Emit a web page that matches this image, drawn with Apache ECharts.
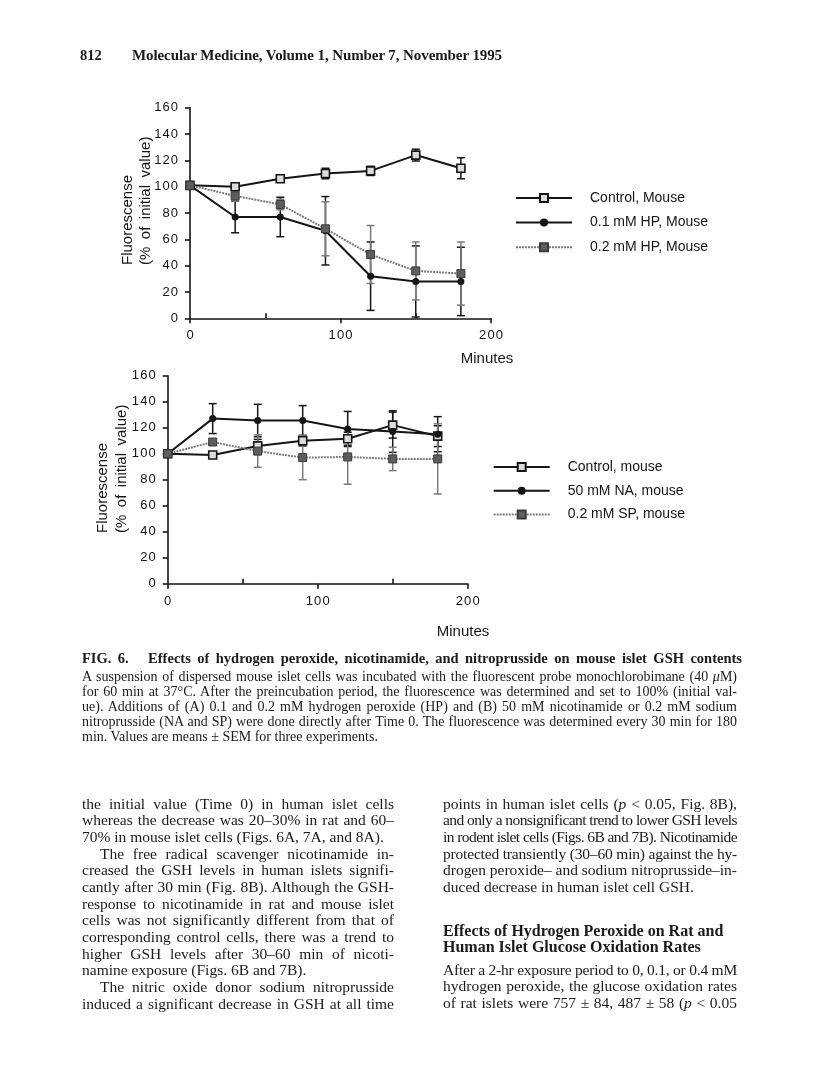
<!DOCTYPE html>
<html><head><meta charset="utf-8">
<script src="https://cdn.jsdelivr.net/npm/echarts@6/dist/echarts.min.js"></script>
<style>
html,body{margin:0;padding:0;background:#fff;}
#page{position:relative;width:816px;height:1088px;overflow:hidden;background:#fff;}
#chart{position:absolute;left:0;top:0;width:816px;height:1088px;}
.ln{position:absolute;white-space:nowrap;color:#1a1a1a;font-family:'Liberation Serif','Times New Roman',serif;}
.j{text-align:justify;text-align-last:justify;}
</style></head><body>
<div id="page"><div id="chart"></div><div id="txt"></div></div>
<script>
// ---------- data ----------
const minutes = [0, 30, 60, 90, 120, 150, 180];
const xTickLabels = ['0', '100', '200'];
const yTickLabels = ['0', '20', '40', '60', '80', '100', '120', '140', '160'];

// Panel A (hydrogen peroxide)
const legendA = ['Control, Mouse', '0.1 mM HP, Mouse', '0.2 mM HP, Mouse'];
const ctrlA    = [101, 100, 106, 110, 112, 124, 114];
const ctrlASem = [0, 2, 2, 4, 3.5, 4.5, 8];
const hp01     = [101, 77, 77, 66.5, 32, 28, 28];
const hp01Sem  = [0, 12, 15, 26, 26, 27, 26];
const hp02     = [101, 93, 86.5, 68, 48.5, 36, 34];
const hp02Sem  = [0, 4, 4, 20.5, 22, 22, 24];

// Panel B (nicotinamide / nitroprusside)
const legendB = ['Control, mouse', '50 mM NA, mouse', '0.2 mM SP, mouse'];
const ctrlB    = [100, 99, 106, 110, 111.5, 122, 113.5];
const ctrlBSem = [0, 2, 5, 4, 5, 10, 8];
const naB      = [100, 127, 125.5, 125.5, 119, 117, 115];
const naBSem   = [0, 11.5, 12.5, 11.5, 13.5, 16, 13.5];
const spB      = [100, 109, 102, 97, 97.5, 96, 96];
const spBSem   = [0, 2, 12.5, 17, 21, 9, 27];

// ---------- page text ----------
const headerNum = '812';
const headerTitle = 'Molecular Medicine, Volume 1, Number 7, November 1995';
const captionTitle = 'FIG. 6.&nbsp;&nbsp; Effects of hydrogen peroxide, nicotinamide, and nitroprusside on mouse islet GSH contents';
const captionLines = [
  'A suspension of dispersed mouse islet cells was incubated with the fluorescent probe monochlorobimane (40 <i>μ</i>M)',
  'for 60 min at 37°C. After the preincubation period, the fluorescence was determined and set to 100% (initial val-',
  'ue). Additions of (A) 0.1 and 0.2 mM hydrogen peroxide (HP) and (B) 50 mM nicotinamide or 0.2 mM sodium',
  'nitroprusside (NA and SP) were done directly after Time 0. The fluorescence was determined every 30 min for 180',
  'min. Values are means ± SEM for three experiments.'
];
const leftCol = [
  ['the initial value (Time 0) in human islet cells', 'j'],
  ['whereas the decrease was 20–30% in rat and 60–', 'j'],
  ['70% in mouse islet cells (Figs. 6A, 7A, and 8A).', 'l'],
  ['The free radical scavenger nicotinamide in-', 'ij'],
  ['creased the GSH levels in human islets signifi-', 'j'],
  ['cantly after 30 min (Fig. 8B). Although the GSH-', 'j'],
  ['response to nicotinamide in rat and mouse islet', 'j'],
  ['cells was not significantly different from that of', 'j'],
  ['corresponding control cells, there was a trend to', 'j'],
  ['higher GSH levels after 30–60 min of nicoti-', 'j'],
  ['namine exposure (Figs. 6B and 7B).', 'l'],
  ['The nitric oxide donor sodium nitroprusside', 'ij'],
  ['induced a significant decrease in GSH at all time', 'j']
];
const rightCol = [
  ['points in human islet cells (<i>p</i> &lt; 0.05, Fig. 8B),', 'j'],
  ['and only a nonsignificant trend to lower GSH levels', 'j'],
  ['in rodent islet cells (Figs. 6B and 7B). Nicotinamide', 'j'],
  ['protected transiently (30–60 min) against the hy-', 'j'],
  ['drogen peroxide– and sodium nitroprusside–in-', 'j'],
  ['duced decrease in human islet cell GSH.', 'l']
];
const headingLines = ['Effects of Hydrogen Peroxide on Rat and', 'Human Islet Glucose Oxidation Rates'];
const rightCol2 = [
  ['After a 2-hr exposure period to 0, 0.1, or 0.4 mM', 'j'],
  ['hydrogen peroxide, the glucose oxidation rates', 'j'],
  ['of rat islets were 757 ± 84, 487 ± 58 (<i>p</i> &lt; 0.05', 'j']
];

// ---------- build text ----------
const txt = document.getElementById('txt');
function addLine(html, x, cy, w, size, justify, extra) {
  const d = document.createElement('div');
  const lh = Math.round(size * 1.2);
  d.className = 'ln';
  d.style.left = x + 'px';
  d.style.top = (cy - lh / 2) + 'px';
  d.style.lineHeight = lh + 'px';
  d.style.fontSize = size + 'px';
  if (extra) Object.assign(d.style, extra);
  const s = document.createElement('span');
  s.innerHTML = html;
  d.appendChild(s);
  txt.appendChild(d);
  if (justify && w) {
    const nat = s.getBoundingClientRect().width;
    if (nat > w) {
      const n = Math.max(1, s.textContent.length - 1);
      d.style.letterSpacing = ((w - nat) / n) + 'px';
    }
    d.innerHTML = html;
    d.style.width = w + 'px';
    d.classList.add('j');
  }
}
const L = 82, R = 737;
addLine(headerNum, L - 2, 55, 0, 14.5, false, {fontWeight: 'bold'});
addLine(headerTitle, 132, 55, 370, 15, true, {fontWeight: 'bold'});
addLine(captionTitle, L, 658, 660, 14.5, true, {fontWeight: 'bold'});
captionLines.forEach((t, i) => {
  const last = i === captionLines.length - 1;
  addLine(t, L, 676 + i * 15, R - L, 14, !last);
});
const bodyTop = 803, bodyStep = 16.67, colLW = 312, colR = 443, colRW = R - 443, BODY = 15.5;
leftCol.forEach(([t, k], i) => {
  const ind = k.indexOf('i') >= 0 ? 18 : 0;
  const just = k.indexOf('j') >= 0;
  addLine(t, L + ind, bodyTop + i * bodyStep, colLW - ind, BODY, just);
});
rightCol.forEach(([t, k], i) => {
  addLine(t, colR, bodyTop + i * bodyStep, colRW, BODY, k === 'j');
});
headingLines.forEach((t, i) => addLine(t, colR, 930 + i * bodyStep, 0, 16, false, {fontWeight: 'bold'}));
rightCol2.forEach(([t, k], i) => addLine(t, colR, 969 + i * bodyStep, colRW, BODY, true));

// ---------- chart ----------
const SANS = 'Liberation Sans, Arial, sans-serif';
const INK = '#151515';
const GREY = '#7a7a7a';
const spaced = s => String(s).split('').join('\u200a');

function xAx(gi) {
  return {
    gridIndex: gi, type: 'value', min: 0, max: 200, interval: 100,
    axisLine: {show: true, onZero: false, lineStyle: {color: INK, width: 1.6}},
    axisTick: {show: true, length: 5, lineStyle: {color: INK, width: 1.6}},
    minorTick: {show: true, splitNumber: 2, length: -5, lineStyle: {color: INK, width: 1.6}},
    splitLine: {show: false}, minorSplitLine: {show: false},
    axisLabel: {margin: 11, color: INK, fontSize: 13, fontFamily: SANS,
      formatter: v => spaced(xTickLabels[Math.round(v / 100)] ?? v)}
  };
}
function yAx(gi) {
  return {
    gridIndex: gi, type: 'value', min: 0, max: 160, interval: 20,
    axisLine: {show: true, onZero: false, lineStyle: {color: INK, width: 1.6}},
    axisTick: {show: true, length: 5, lineStyle: {color: INK, width: 1.6}},
    splitLine: {show: false},
    axisLabel: {margin: 12, color: INK, fontSize: 13, fontFamily: SANS,
      formatter: v => spaced(yTickLabels[Math.round(v / 20)] ?? v)}
  };
}
const styles = {
  ctrl: {symbol: 'rect', symbolSize: 8,
    itemStyle: {color: '#dcdcdc', borderColor: INK, borderWidth: 1.6},
    lineStyle: {color: INK, width: 2}},
  black: {symbol: 'circle', symbolSize: 7,
    itemStyle: {color: INK, borderColor: INK, borderWidth: 0},
    lineStyle: {color: INK, width: 2}},
  grey: {symbol: 'rect', symbolSize: 8,
    itemStyle: {color: '#5e5e5e', borderColor: '#3a3a3a', borderWidth: 1},
    lineStyle: {color: GREY, width: 2, type: [2, 1]}}
};
function lineS(name, gi, vals, kind) {
  const st = styles[kind];
  return {
    name, type: 'line', xAxisIndex: gi, yAxisIndex: gi, z: 3,
    data: minutes.map((m, i) => [m, vals[i]]),
    symbol: st.symbol, symbolSize: st.symbolSize, showSymbol: true,
    itemStyle: st.itemStyle, lineStyle: st.lineStyle,
    emphasis: {disabled: true}, animation: false
  };
}
function errS(gi, vals, sems, color) {
  return {
    type: 'custom', xAxisIndex: gi, yAxisIndex: gi, z: 2, silent: true, animation: false,
    data: minutes.map((m, i) => [m, vals[i], sems[i]]),
    renderItem: function (params, api) {
      const x = api.value(0), v = api.value(1), e = api.value(2);
      if (!e) return null;
      const hi = api.coord([x, v + e]);
      const lo = api.coord([x, Math.max(0, v - e)]);
      const w = 4;
      const st = {stroke: color, lineWidth: 1.5};
      return {type: 'group', children: [
        {type: 'line', shape: {x1: hi[0], y1: hi[1], x2: lo[0], y2: lo[1]}, style: st},
        {type: 'line', shape: {x1: hi[0] - w, y1: hi[1], x2: hi[0] + w, y2: hi[1]}, style: st},
        {type: 'line', shape: {x1: lo[0] - w, y1: lo[1], x2: lo[0] + w, y2: lo[1]}, style: st}
      ]};
    }
  };
}
function legendCfg(data, left, top, gap) {
  return {
    data, orient: 'vertical', left, top, padding: 0, itemWidth: 56, itemHeight: 10, itemGap: gap,
    selectedMode: false,
    textStyle: {color: INK, fontSize: 14, fontFamily: SANS, padding: [0, 0, 0, 13]}
  };
}
const yTitle = 'Fluorescense\n(%\u2002of\u2002initial\u2002value)';
function axisTitle(x, y, lh) {
  return {type: 'text', x, y, rotation: Math.PI / 2, silent: true,
    style: {text: yTitle, textAlign: 'left', textVerticalAlign: 'middle',
      lineHeight: lh, fontSize: 15, fontFamily: SANS, fill: INK}};
}
function minutesTitle(x, y) {
  return {type: 'text', x, y, silent: true,
    style: {text: 'Minutes', textAlign: 'center', textVerticalAlign: 'middle',
      fontSize: 15, fontFamily: SANS, fill: INK}};
}

const chart = echarts.init(document.getElementById('chart'), null, {renderer: 'canvas'});
chart.setOption({
  animation: false,
  backgroundColor: 'transparent',
  grid: [
    {left: 190, top: 107.7, width: 301, height: 210.6, containLabel: false, outerBoundsMode: 'none'},
    {left: 167.7, top: 375.7, width: 300, height: 208, containLabel: false, outerBoundsMode: 'none'}
  ],
  xAxis: [xAx(0), xAx(1)],
  yAxis: [yAx(0), yAx(1)],
  legend: [legendCfg(legendA, 515, 191, 10.6), legendCfg(legendB, 492.7, 460, 9.7)],
  graphic: [axisTitle(136.5, 265, 18), axisTitle(112.5, 533, 19),
            minutesTitle(487, 359), minutesTitle(463, 632)],
  series: [
    errS(0, ctrlA, ctrlASem, INK), errS(0, hp01, hp01Sem, INK), errS(0, hp02, hp02Sem, GREY),
    lineS(legendA[0], 0, ctrlA, 'ctrl'), lineS(legendA[1], 0, hp01, 'black'), lineS(legendA[2], 0, hp02, 'grey'),
    errS(1, ctrlB, ctrlBSem, INK), errS(1, naB, naBSem, INK), errS(1, spB, spBSem, GREY),
    lineS(legendB[0], 1, ctrlB, 'ctrl'), lineS(legendB[1], 1, naB, 'black'), lineS(legendB[2], 1, spB, 'grey')
  ]
});
</script>
</body></html>
